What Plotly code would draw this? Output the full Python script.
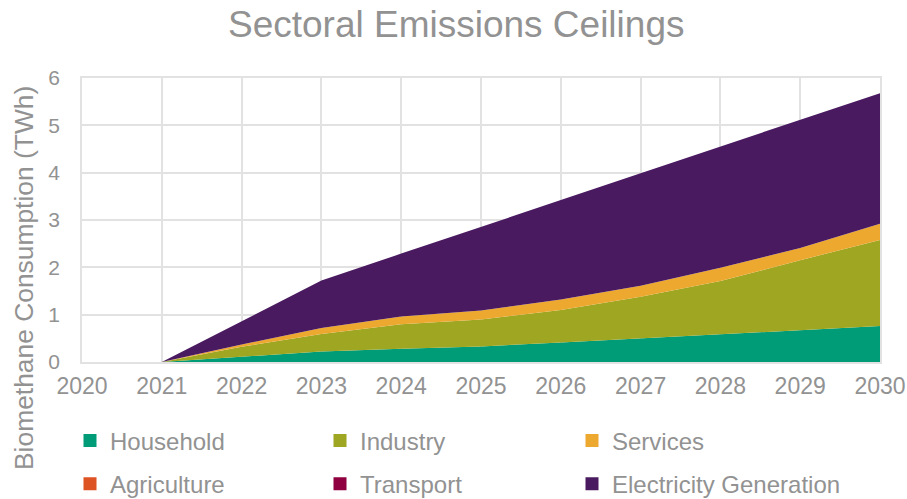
import plotly.graph_objects as go

# ---- data ----
years = [2021, 2022, 2023, 2024, 2025, 2026, 2027, 2028, 2029, 2030]
household = [0, 0.11, 0.22, 0.28, 0.33, 0.41, 0.50, 0.58, 0.67, 0.76]
industry = [0, 0.21, 0.37, 0.52, 0.57, 0.69, 0.88, 1.13, 1.48, 1.82]
services = [0, 0.05, 0.13, 0.16, 0.19, 0.22, 0.23, 0.28, 0.26, 0.34]
agriculture = [0, 0, 0, 0, 0, 0, 0, 0, 0, 0]
transport = [0, 0, 0, 0, 0, 0, 0, 0, 0, 0]
electricity = [0, 0.49, 1.00, 1.33, 1.76, 2.10, 2.38, 2.56, 2.71, 2.76]

x_ticks = [2020, 2021, 2022, 2023, 2024, 2025, 2026, 2027, 2028, 2029, 2030]
y_ticks = [0, 1, 2, 3, 4, 5, 6]

series_names = ["Household", "Industry", "Services", "Agriculture", "Transport", "Electricity Generation"]
series_values = [household, industry, services, agriculture, transport, electricity]
colors = ["#009B77", "#9FA621", "#EDA830", "#DE5324", "#8F0040", "#4A1A61"]

FONT = "Liberation Sans, Arial, sans-serif"
GRAY = "#929292"
GRID = "#e2e2e2"

fig = go.Figure()
for name, vals, col in zip(series_names, series_values, colors):
    fig.add_trace(go.Scatter(
        x=years, y=vals, name=name, stackgroup="one", mode="lines",
        line=dict(width=0, color=col), fillcolor=col, showlegend=False,
        hoverinfo="x+y+name",
    ))

# legend: one single-entry legend per cell of a 3 x 2 grid
legend_ids = ["legend", "legend2", "legend3", "legend4", "legend5", "legend6"]
col_px = [70, 320, 572]          # left edge of each legend column (pixels)
row_paper = [-0.278, -0.430]     # vertical centre of each legend row (paper)

legend_layout = {}
for i, (name, col) in enumerate(zip(series_names, colors)):
    fig.add_trace(go.Scatter(
        x=[None], y=[None], mode="markers", name=name,
        marker=dict(symbol="square", size=13, color=col),
        showlegend=True, legend=legend_ids[i],
    ))
    legend_layout[legend_ids[i]] = dict(
        x=(col_px[i % 3] - 82) / 798, y=row_paper[i // 3],
        xanchor="left", yanchor="middle", orientation="h",
        font=dict(family=FONT, size=24, color=GRAY),
        bgcolor="rgba(0,0,0,0)", borderwidth=0,
        itemclick=False, itemdoubleclick=False,
    )

fig.update_layout(
    width=907, height=499,
    margin=dict(l=82, r=27, t=78, b=137, autoexpand=False),
    paper_bgcolor="white", plot_bgcolor="white",
    font=dict(family=FONT, color=GRAY),
    title=dict(text="Sectoral Emissions Ceilings", x=0.503, xref="container", xanchor="center",
               y=1 - 24 / 499, yref="container", yanchor="middle",
               font=dict(family=FONT, size=37, color=GRAY)),
    xaxis=dict(range=[2020, 2030], tickvals=x_ticks, ticktext=[str(t) for t in x_ticks],
               showgrid=True, gridcolor=GRID, gridwidth=1.5,
               showline=True, linecolor=GRID, linewidth=1.5, mirror=True,
               zeroline=False, ticks="", automargin=False, ticklabelstandoff=3,
               tickfont=dict(family=FONT, size=23, color=GRAY)),
    yaxis=dict(range=[0, 6], tickvals=y_ticks, ticktext=[str(t) for t in y_ticks],
               showgrid=True, gridcolor=GRID, gridwidth=1.5,
               showline=True, linecolor=GRID, linewidth=1.5, mirror=True,
               zeroline=False, ticks="", automargin=False, ticklabelstandoff=16,
               tickfont=dict(family=FONT, size=21, color=GRAY)),
    annotations=[dict(
        text="Biomethane Consumption (TWh)", textangle=-90,
        xref="paper", yref="paper", x=(24 - 82) / 798, y=(362 - 278) / 284,
        xanchor="center", yanchor="middle", showarrow=False,
        font=dict(family=FONT, size=26.4, color=GRAY),
    )],
    **legend_layout,
)

fig.write_html(
    "out.html",
    config={"displayModeBar": False},
    post_script="document.body.style.margin='0px';document.body.style.overflow='hidden';",
)
